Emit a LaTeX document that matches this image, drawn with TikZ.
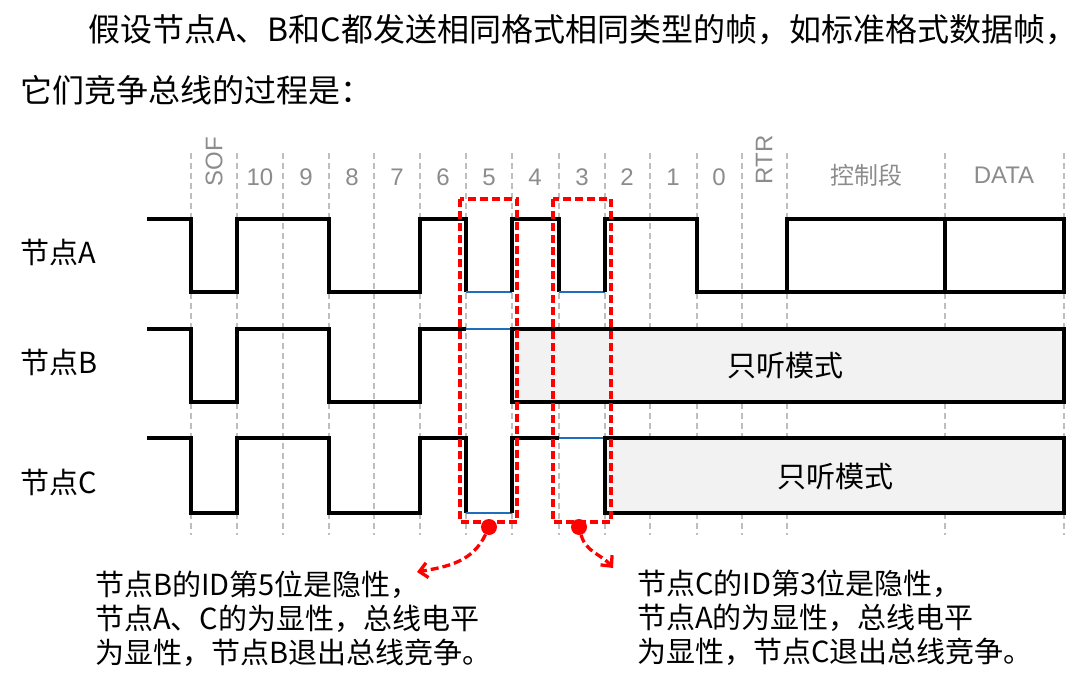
\documentclass[tikz,border=0pt]{standalone}
\usepackage{fontspec}
\setmainfont{Liberation Sans}
\newfontfamily\cjk{Noto Sans CJK SC}
\usetikzlibrary{arrows.meta}
\definecolor{bitgray}{RGB}{140,140,140}
\definecolor{gridgray}{RGB}{190,190,190}
\definecolor{busblue}{RGB}{30,110,190}
\definecolor{listenfill}{RGB}{242,242,242}

\begin{document}
\begin{tikzpicture}[x=1pt, y=-1pt,
  wave/.style={line width=3.3pt, line join=miter},
  recessive/.style={line width=2.8pt, busblue},
  grid line/.style={gridgray, line width=1.4pt, dash pattern=on 6pt off 4pt},
  bit/.style={bitgray, inner sep=0pt, font=\fontsize{24}{24}\selectfont},
  lost/.style={red, line width=3.3pt, dash pattern=on 8pt off 4pt},
  note/.style={font=\cjk\fontsize{29}{34}\selectfont, align=left, anchor=west, inner sep=0pt}]
  \useasboundingbox (0,0) rectangle (1080,682);

  % heading
  \node[anchor=west, inner sep=0pt, font=\cjk\fontsize{32}{32}\selectfont] (intro) at (88,30) {假设节点A、B和C都发送相同格式相同类型的帧，如标准格式数据帧，};
  \node[anchor=west, inner sep=0pt, font=\cjk\fontsize{32}{32}\selectfont] (intro2) at (20,90) {它们竞争总线的过程是：};

  % bit grid
  \foreach \x in {191,237,283,329,374,420,466,512,559,605,650,697,742,787,945,1064}
    \draw[grid line] (\x,153) -- (\x,535);
  \node[bit, rotate=90] (sof) at (214,162) {SOF};
  \foreach \x/\b in {260/10, 306/9, 352/8, 397/7, 443/6, 489/5, 535/4, 582/3, 627/2, 673/1, 719/0}
    \node[bit] (bit\b) at (\x,177) {\b};
  \node[bit, rotate=90] (rtr) at (764,160) {RTR};
  \node[bit, font=\cjk\fontsize{24}{24}\selectfont] (ctrl) at (866,175) {控制段};
  \node[bit] (data) at (1004,175) {DATA};

  % node A
  \node[note] (nodeA) at (20,252) {节点A};
  \draw[wave] (147,219) -- (191,219) -- (191,292) -- (237,292) -- (237,219) -- (329,219) -- (329,292) -- (420,292) -- (420,219) -- (466,219) -- (466,292);
  \draw[recessive] (466,292) -- (512,292);
  \draw[wave] (512,292) -- (512,219) -- (559,219) -- (559,292);
  \draw[recessive] (559,292) -- (605,292);
  \draw[wave] (605,292) -- (605,219) -- (697,219) -- (697,292) -- (787,292);
  \draw[wave] (787,219) rectangle (1064,292);
  \draw[wave] (945,219) -- (945,292);

  % node B
  \node[note] (nodeB) at (20,362) {节点B};
  \draw[wave] (147,329) -- (191,329) -- (191,402) -- (237,402) -- (237,329) -- (329,329) -- (329,402) -- (420,402) -- (420,329) -- (466,329);
  \draw[recessive] (466,329) -- (512,329);
  \draw[wave, fill=listenfill] (512,329) rectangle (1064,402);
  \node[note, anchor=center] (listenB) at (785,366) {只听模式};

  % node C
  \node[note] (nodeC) at (20,482) {节点C};
  \draw[wave] (147,438) -- (191,438) -- (191,513) -- (237,513) -- (237,438) -- (329,438) -- (329,513) -- (420,513) -- (420,438) -- (466,438) -- (466,513);
  \draw[recessive] (466,513) -- (512,513);
  \draw[wave] (512,513) -- (512,438) -- (559,438);
  \draw[recessive] (559,438) -- (605,438);
  \draw[wave, fill=listenfill] (605,438) rectangle (1064,513);
  \node[note, anchor=center] (listenC) at (835,477) {只听模式};

  % lost arbitration
  \draw[lost] (460,199) rectangle (517,522);
  \draw[lost] (553,199) rectangle (611,522);
  \node[circle, fill=red, inner sep=0pt, minimum size=16pt] (hitB) at (489,527) {};
  \node[circle, fill=red, inner sep=0pt, minimum size=16pt] (hitC) at (579,527) {};

  \node[note] (noteB) at (95,619) {节点B的ID第5位是隐性，\\节点A、C的为显性，总线电平\\为显性，节点B退出总线竞争。};
  \node[note] (noteC) at (637,618) {节点C的ID第3位是隐性，\\节点A的为显性，总线电平\\为显性，节点C退出总线竞争。};
  \coordinate (tipB) at (417,572);
  \coordinate (tipC) at (613,568);
  \draw[lost, -{Straight Barb[length=8pt, width=15pt]}] (hitB) to[out=-115, in=10] (tipB);
  \draw[lost, -{Straight Barb[length=8pt, width=15pt]}] (hitC) to[out=-75, in=130] (tipC);
\end{tikzpicture}
\end{document}
